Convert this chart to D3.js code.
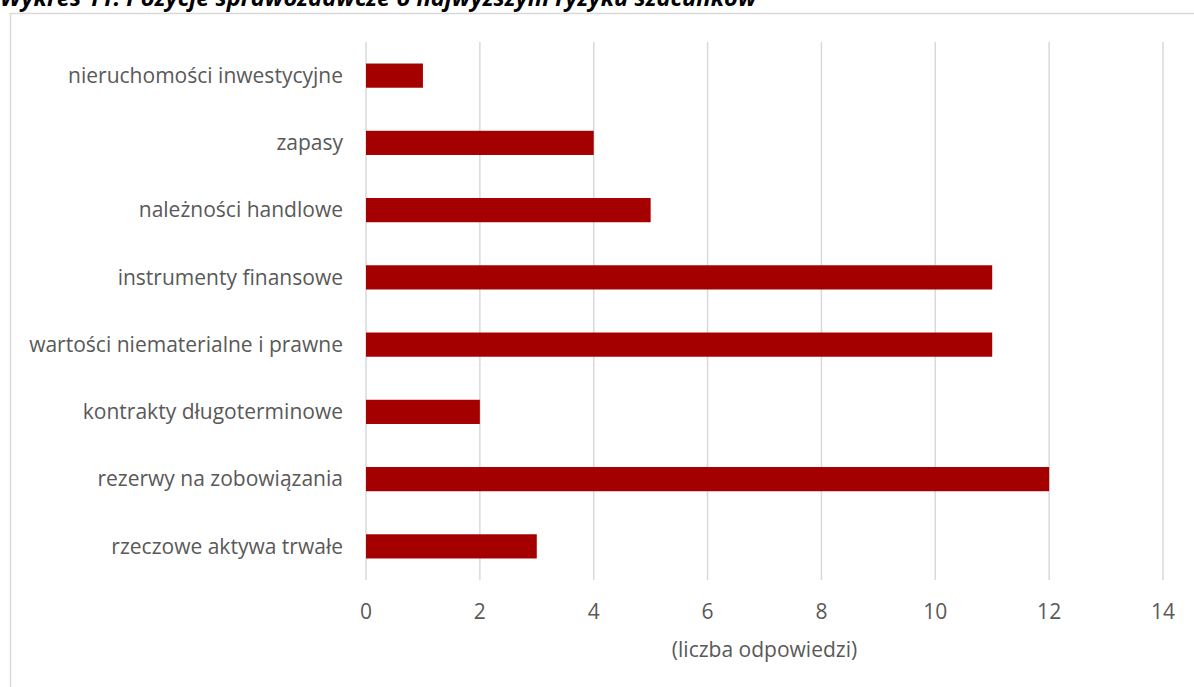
<!DOCTYPE html>
<html>
<head>
<meta charset="utf-8">
<script src="https://cdn.jsdelivr.net/npm/d3@7"></script>
<style>
  html, body { margin: 0; padding: 0; background: #fff; overflow: hidden; }
  svg { display: block; }
</style>
</head>
<body>
<svg id="chart" width="1194" height="687"></svg>
<script>
// Categories top to bottom and number of answers
const categories = [
  "nieruchomości inwestycyjne",
  "zapasy",
  "należności handlowe",
  "instrumenty finansowe",
  "wartości niematerialne i prawne",
  "kontrakty długoterminowe",
  "rezerwy na zobowiązania",
  "rzeczowe aktywa trwałe"
];
const values = [1, 4, 5, 11, 11, 2, 12, 3];
const xTicks = [0, 2, 4, 6, 8, 10, 12, 14];
const titleText = "Wykres 11. Pozycje sprawozdawcze o najwyższym ryzyku szacunków";
const axisTitle = "(liczba odpowiedzi)";

(function () {
  const font = "'Open Sans', Lato, sans-serif";
  const svg = d3.select("#chart");

  const plotLeft = 366, plotRight = 1163, plotTop = 42, plotBottom = 580;

  const x = d3.scaleLinear().domain([0, 14]).range([plotLeft, plotRight]);
  const y = d3.scaleBand().domain(categories).range([plotTop, plotBottom])
    .paddingInner(0.64).paddingOuter(0.32);

  // font size that makes a string span the given width
  function fitSize(text, width, weight, style) {
    const t = svg.append("text")
      .attr("font-family", font).attr("font-size", 100)
      .attr("font-weight", weight || "normal")
      .attr("font-style", style || "normal")
      .text(text);
    const w = t.node().getComputedTextLength();
    t.remove();
    return 100 * width / w;
  }
  const labelSize = fitSize("wartości niematerialne i prawne", 314);
  const titleSize = fitSize(titleText, 757, "bold", "italic");

  // Outer frame (top and left edges visible)
  svg.append("path")
    .attr("d", "M10.5,687 V13.5 H1194")
    .attr("fill", "none")
    .attr("stroke", "#d9d9d9")
    .attr("stroke-width", 1.5);

  // Title, partly cut off at the top edge
  svg.append("text")
    .attr("x", 0).attr("y", 6)
    .attr("font-family", font)
    .attr("font-weight", "bold")
    .attr("font-style", "italic")
    .attr("font-size", titleSize)
    .attr("fill", "#000")
    .text(titleText);

  // Vertical gridlines
  svg.append("g").selectAll("line")
    .data(xTicks)
    .join("line")
    .attr("x1", d => x(d)).attr("x2", d => x(d))
    .attr("y1", plotTop).attr("y2", plotBottom)
    .attr("stroke", "#d9d9d9")
    .attr("stroke-width", 1.5);

  // Bars
  svg.append("g").selectAll("rect")
    .data(categories)
    .join("rect")
    .attr("x", x(0))
    .attr("y", d => y(d))
    .attr("width", (d, i) => x(values[i]) - x(0))
    .attr("height", y.bandwidth())
    .attr("fill", "#a50000");

  // Category labels
  svg.append("g").selectAll("text")
    .data(categories)
    .join("text")
    .attr("x", plotLeft - 23)
    .attr("y", d => y(d) + y.bandwidth() / 2)
    .attr("dy", "0.35em")
    .attr("text-anchor", "end")
    .attr("font-family", font)
    .attr("font-size", labelSize)
    .attr("fill", "#595959")
    .text(d => d);

  // X axis tick labels
  svg.append("g").selectAll("text")
    .data(xTicks)
    .join("text")
    .attr("x", d => x(d))
    .attr("y", 612)
    .attr("dy", "0.35em")
    .attr("text-anchor", "middle")
    .attr("font-family", font)
    .attr("font-size", labelSize)
    .attr("fill", "#595959")
    .text(d => d);

  // Axis title
  svg.append("text")
    .attr("x", (plotLeft + plotRight) / 2)
    .attr("y", 650)
    .attr("dy", "0.35em")
    .attr("text-anchor", "middle")
    .attr("font-family", font)
    .attr("font-size", labelSize)
    .attr("fill", "#595959")
    .text(axisTitle);
})();
</script>
</body>
</html>
